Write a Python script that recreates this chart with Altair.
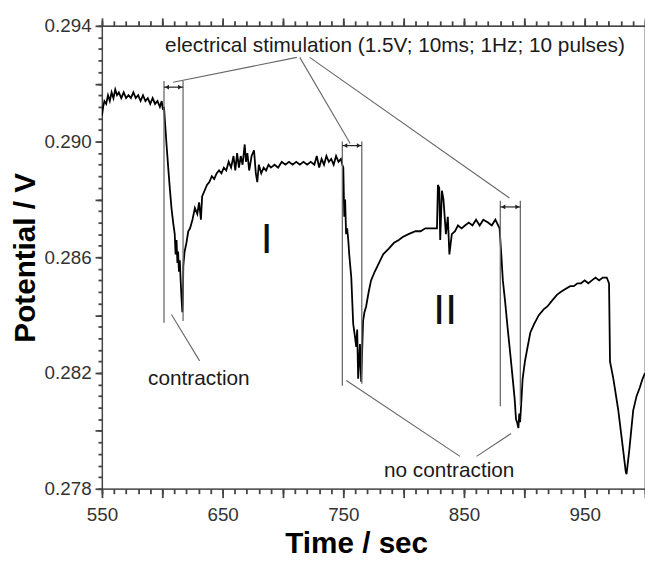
import altair as alt
import pandas as pd

# ---- trace: (time s, potential V) ----
REST_1 = [(550.0, 0.2909), (551.0, 0.2912), (552.0, 0.2914), (553.5, 0.2913), (555.0, 0.2916),
          (556.5, 0.2914), (558.0, 0.2917), (559.5, 0.2915), (561.0, 0.2918), (562.5, 0.2916),
          (564.0, 0.2917), (566.0, 0.2915), (568.0, 0.2917), (570.0, 0.2915), (572.0, 0.2916),
          (574.0, 0.2915), (576.0, 0.2917), (578.0, 0.2915), (580.0, 0.2916), (582.0, 0.2914),
          (584.0, 0.2916), (586.0, 0.2914), (588.0, 0.2915), (590.0, 0.2913), (592.0, 0.2915),
          (594.0, 0.2913), (596.0, 0.2914), (598.0, 0.2912), (599.5, 0.2914), (600.5, 0.2911),
          (601.4, 0.2912)]
PULSE_1 = [(602.2, 0.2907), (603.5, 0.2899), (604.9, 0.2891), (606.2, 0.2884), (607.6, 0.2877),
           (609.0, 0.2872), (610.3, 0.2868), (611.0, 0.2861), (611.8, 0.2866), (612.5, 0.2858),
           (613.1, 0.2862), (613.8, 0.2855), (614.5, 0.2859), (615.2, 0.2852), (615.9, 0.2846),
           (616.6, 0.2841), (617.0, 0.2845), (617.4, 0.2857), (618.5, 0.2862), (620.0, 0.2865),
           (621.5, 0.2869), (623.0, 0.2870), (625.0, 0.2873), (627.0, 0.2877), (629.0, 0.2875),
           (630.5, 0.2879), (632.0, 0.2873), (633.0, 0.2881)]
RECOVERY_1 = [(635.0, 0.2883), (637.0, 0.2885), (639.0, 0.2886), (641.0, 0.2888), (643.0, 0.2887),
              (645.0, 0.2889), (647.0, 0.2890), (649.0, 0.2889), (651.0, 0.2891), (653.0, 0.2890),
              (655.0, 0.2893), (657.0, 0.2891), (659.0, 0.2895), (660.5, 0.2890), (662.0, 0.2896),
              (663.5, 0.2891), (665.0, 0.2895), (666.5, 0.2892), (668.3, 0.2899), (669.3, 0.2893),
              (670.5, 0.2896), (672.0, 0.2890), (674.0, 0.2895), (676.0, 0.2897), (677.5, 0.2889),
              (678.7, 0.2886), (680.0, 0.2892), (682.0, 0.2889), (684.0, 0.2891), (686.0, 0.2890),
              (688.0, 0.2892), (690.0, 0.2891), (693.0, 0.2892), (696.0, 0.2891), (699.0, 0.2893),
              (702.0, 0.2892), (705.0, 0.2893), (708.0, 0.2892), (711.0, 0.2893), (714.0, 0.2892),
              (717.0, 0.2893), (720.0, 0.2892), (723.0, 0.2893), (726.0, 0.2892), (728.0, 0.2895),
              (730.0, 0.2891), (732.0, 0.2894), (734.0, 0.2892), (736.0, 0.2895), (738.0, 0.2893),
              (740.0, 0.2894), (742.0, 0.2892), (744.0, 0.2895), (746.0, 0.2893), (748.0, 0.2894),
              (749.2, 0.2892)]
PULSE_2 = [(750.0, 0.2891), (750.8, 0.2874), (751.5, 0.2880), (752.3, 0.2868), (753.2, 0.2870),
           (754.1, 0.2866), (754.9, 0.2861), (756.6, 0.2853), (758.2, 0.2837), (759.5, 0.2833),
           (760.7, 0.2829), (761.5, 0.2835), (762.3, 0.2818), (763.1, 0.2824), (763.8, 0.2830),
           (764.8, 0.2817), (765.5, 0.2826), (766.4, 0.2838), (767.5, 0.2841), (768.9, 0.2843),
           (771.0, 0.2848), (773.0, 0.2852), (776.0, 0.2855), (779.5, 0.2858), (783.0, 0.2861),
           (787.7, 0.2863), (792.0, 0.2865), (796.0, 0.2866), (799.2, 0.2867), (804.0, 0.2868),
           (809.8, 0.2869), (814.0, 0.2869), (818.0, 0.2870), (822.0, 0.2870), (826.2, 0.2870)]
SPIKE = [(827.6, 0.2870), (828.4, 0.2885), (829.5, 0.2884), (830.3, 0.2866), (831.7, 0.2883),
         (833.0, 0.2880), (835.0, 0.2868), (836.6, 0.2874), (837.9, 0.2861), (839.9, 0.2868),
         (842.6, 0.2869), (845.0, 0.2871), (848.0, 0.2870), (850.8, 0.2871), (854.0, 0.2872),
         (857.0, 0.2871), (860.0, 0.2873), (863.0, 0.2871), (866.0, 0.2873), (869.9, 0.2872),
         (873.0, 0.2871), (876.0, 0.2873), (879.5, 0.2870)]
PULSE_3 = [(880.9, 0.2861), (882.2, 0.2852), (884.0, 0.2845), (886.3, 0.2835), (888.5, 0.2826),
           (890.4, 0.2818), (892.0, 0.2811), (893.1, 0.2804), (894.0, 0.2803), (895.1, 0.2801),
           (895.8, 0.2806), (896.5, 0.2803), (897.5, 0.2810), (898.6, 0.2818), (900.5, 0.2824),
           (902.7, 0.2829), (905.0, 0.2834), (908.2, 0.2837), (912.0, 0.2840), (916.0, 0.2842),
           (919.1, 0.2843), (923.0, 0.2845), (927.0, 0.2847), (930.1, 0.2848), (934.0, 0.2849),
           (938.0, 0.2850), (941.0, 0.2850), (944.0, 0.2851), (947.0, 0.2851), (950.0, 0.2852),
           (953.0, 0.2851), (956.0, 0.2852), (959.0, 0.2853), (962.0, 0.2852), (965.0, 0.2853),
           (968.3, 0.2853), (970.2, 0.2851)]
PULSE_4 = [(971.0, 0.2824), (973.8, 0.2818), (977.9, 0.2807), (982.0, 0.2793), (984.0, 0.2786),
           (984.7, 0.2785), (985.5, 0.2788), (986.9, 0.2793), (990.2, 0.2807), (993.0, 0.2812),
           (995.7, 0.2815), (998.0, 0.2818), (1000.0, 0.2820)]

# ---- stimulation brackets ----
BRACKET_LEFT = [601.4, 749.2, 880.1]
BRACKET_RIGHT = [617.2, 765.3, 896.7]
BRACKET_TOP = [0.29209, 0.29000, 0.28795]
BRACKET_BOTTOM_L = [0.28374, 0.28156, 0.28085]
BRACKET_BOTTOM_R = [0.28380, 0.28163, 0.28088]
ARROW_Y = [0.29188, 0.28986, 0.28774]

# ---- leader lines ----
LEADER_X1 = [711.5, 713.9, 722.1, 607.6, 752.5, 860.4]
LEADER_Y1 = [0.29291, 0.29291, 0.29291, 0.28402, 0.28174, 0.27912]
LEADER_X2 = [609.0, 755.7, 887.7, 630.9, 846.7, 889.1]
LEADER_Y2 = [0.29205, 0.28993, 0.28805, 0.28242, 0.27912, 0.27991]

# ---- labels ----
NOTE_TEXT = ["contraction", "no contraction"]
NOTE_X = [630.3, 837.7]
NOTE_Y = [0.28159, 0.27841]
ROMAN_TEXT = ["I", "II"]
ROMAN_X = [686.5, 834.4]
ROMAN_Y = [0.28614, 0.28368]
TOP_TEXT = "electrical stimulation (1.5V; 10ms; 1Hz; 10 pulses)"
TOP_X, TOP_Y = 602.3, 0.29308

X_MAJOR = [550, 600, 650, 700, 750, 800, 850, 900, 950, 1000]
X_MINOR = list(range(550, 1001, 10))
Y_MAJOR = [0.278, 0.280, 0.282, 0.284, 0.286, 0.288, 0.290, 0.292, 0.294]
Y_MINOR = [round(0.278 + 0.0004 * i, 4) for i in range(41)]

FONT = "Liberation Sans"
AXC = "#444444"
TICK_W = 1.8

rows = REST_1 + PULSE_1 + RECOVERY_1 + PULSE_2 + SPIKE + PULSE_3 + PULSE_4
trace = pd.DataFrame(rows, columns=["t", "v"])

xs = alt.Scale(domain=[550, 1000], nice=False, zero=False)
ys = alt.Scale(domain=[0.278, 0.294], nice=False, zero=False)

x_axis = alt.Axis(values=X_MAJOR, tickSize=9, grid=False, domainColor=AXC, tickColor=AXC,
                  domainWidth=1.2, tickWidth=TICK_W, labelFont=FONT, labelFontSize=19,
                  labelColor="#333", labelOverlap=False, labelFlush=False,
                  labelExpr="datum.value % 100 === 50 ? format(datum.value, 'd') : ''",
                  labelPadding=8, title="Time / sec", titleFont=FONT, titleFontSize=30,
                  titleFontWeight="bold", titleColor="black", titleX=257, titleY=64,
                  titleBaseline="alphabetic", titleAlign="center")
y_axis = alt.Axis(values=Y_MAJOR, tickSize=7, grid=False, domainColor=AXC, tickColor=AXC,
                  domainWidth=1.2, tickWidth=TICK_W, labelFont=FONT, labelFontSize=19,
                  labelColor="#333", labelOverlap=False, labelFlush=False,
                  labelExpr="round(datum.value * 1000) % 4 === 2 ? format(datum.value, '.3f') : ''",
                  labelPadding=4, title="Potential / V", titleFont=FONT, titleFontSize=30,
                  titleFontWeight="bold", titleColor="black", titleAngle=270, titleX=-68,
                  titleY=234, titleBaseline="alphabetic", titleAlign="center")


def plain_axis(orient, values, size, domain):
    return alt.Axis(orient=orient, values=values, tickSize=size, labels=False, title=None,
                    grid=False, domain=domain, domainColor=AXC, domainWidth=1.2,
                    tickColor=AXC, tickWidth=TICK_W)


def axis_layer(xaxis, yaxis):
    return alt.Chart(trace).mark_line(opacity=0).encode(
        x=alt.X("t:Q", scale=xs, axis=xaxis),
        y=alt.Y("v:Q", scale=ys, axis=yaxis),
    )


line = alt.Chart(trace).mark_line(color="black", strokeWidth=1.8, clip=True).encode(
    x=alt.X("t:Q", scale=xs, axis=x_axis),
    y=alt.Y("v:Q", scale=ys, axis=y_axis),
)
minor_bl = axis_layer(plain_axis("bottom", X_MINOR, 5, False), plain_axis("left", Y_MINOR, 4, False))
major_tr = axis_layer(plain_axis("top", X_MAJOR, 8, True), plain_axis("right", Y_MAJOR, 7, True))
minor_tr = axis_layer(plain_axis("top", X_MINOR, 5, False), plain_axis("right", Y_MINOR, 4, False))

brackets = pd.DataFrame({
    "t": BRACKET_LEFT + BRACKET_RIGHT,
    "top": BRACKET_TOP + BRACKET_TOP,
    "bottom": BRACKET_BOTTOM_L + BRACKET_BOTTOM_R,
})
bracket_rules = alt.Chart(brackets).mark_rule(color="#6a6a6a", strokeWidth=1.3).encode(
    x=alt.X("t:Q", scale=xs, axis=None),
    y=alt.Y("top:Q", scale=ys, axis=None),
    y2="bottom:Q",
)

arrows = pd.DataFrame({"l": BRACKET_LEFT, "r": BRACKET_RIGHT, "y": ARROW_Y})
arrow_rules = alt.Chart(arrows).mark_rule(color="#222", strokeWidth=1.2).encode(
    x=alt.X("l:Q", scale=xs, axis=None), x2="r:Q",
    y=alt.Y("y:Q", scale=ys, axis=None),
)
arrow_l = alt.Chart(arrows).mark_point(shape="triangle-left", filled=True, size=22,
                                       color="#222", opacity=1, xOffset=3).encode(
    x=alt.X("l:Q", scale=xs, axis=None), y=alt.Y("y:Q", scale=ys, axis=None))
arrow_r = alt.Chart(arrows).mark_point(shape="triangle-right", filled=True, size=22,
                                       color="#222", opacity=1, xOffset=-3).encode(
    x=alt.X("r:Q", scale=xs, axis=None), y=alt.Y("y:Q", scale=ys, axis=None))

leaders = pd.DataFrame({"x1": LEADER_X1, "y1": LEADER_Y1, "x2": LEADER_X2, "y2": LEADER_Y2})
leader_rules = alt.Chart(leaders).mark_rule(color="#666", strokeWidth=1.1).encode(
    x=alt.X("x1:Q", scale=xs, axis=None), x2="x2:Q",
    y=alt.Y("y1:Q", scale=ys, axis=None), y2="y2:Q",
)

top_df = pd.DataFrame({"x": [TOP_X], "y": [TOP_Y], "label": [TOP_TEXT]})
top_text = alt.Chart(top_df).mark_text(font=FONT, fontSize=21, color="#1a1a1a", align="left",
                                       baseline="alphabetic").encode(
    x=alt.X("x:Q", scale=xs, axis=None), y=alt.Y("y:Q", scale=ys, axis=None), text="label:N")

note_df = pd.DataFrame({"x": NOTE_X, "y": NOTE_Y, "label": NOTE_TEXT})
note_text = alt.Chart(note_df).mark_text(font=FONT, fontSize=21, color="#1a1a1a", align="center",
                                         baseline="alphabetic").encode(
    x=alt.X("x:Q", scale=xs, axis=None), y=alt.Y("y:Q", scale=ys, axis=None), text="label:N")

roman_df = pd.DataFrame({"x": ROMAN_X, "y": ROMAN_Y, "label": ROMAN_TEXT})
roman_text = alt.Chart(roman_df).mark_text(font=FONT, fontSize=43, color="#111", align="center",
                                           baseline="alphabetic").encode(
    x=alt.X("x:Q", scale=xs, axis=None), y=alt.Y("y:Q", scale=ys, axis=None), text="label:N")

chart = alt.layer(
    line, minor_bl, major_tr, minor_tr, bracket_rules, arrow_rules, arrow_l, arrow_r,
    leader_rules, top_text, note_text, roman_text,
).resolve_axis(x="independent", y="independent").properties(
    width=549, height=468,
    padding={"left": 95, "top": 15, "right": 0, "bottom": 66},
    autosize=alt.AutoSizeParams(type="none"),
).configure_view(stroke=AXC, strokeWidth=1.2)

chart.save("out.html", embed_options={"renderer": "svg", "actions": False})
